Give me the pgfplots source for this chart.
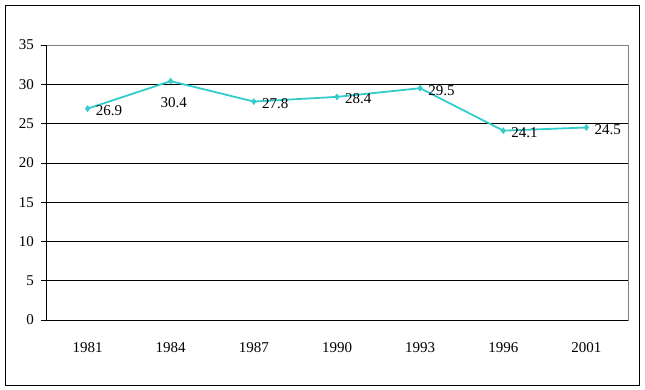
\documentclass[border=0pt]{standalone}
\usepackage{pgfplots}
\pgfplotsset{compat=1.18}
\usepackage{fontspec}
\setmainfont{Liberation Serif}
\definecolor{turq}{HTML}{33CCCC}
\begin{document}
\fontsize{15}{18}\selectfont
\begin{tikzpicture}
\useasboundingbox (-46pt,-70pt) rectangle (599pt,320pt);
\draw[black, line width=0.8pt] (-41pt,-65pt) rectangle (593pt,315pt);
\begin{axis}[
  at={(0,0)}, anchor=south west,
  scale only axis, width=582pt, height=275pt,
  xmin=-0.5, xmax=6.5, ymin=0, ymax=35,
  ytick={0,5,...,35},
  xtick={0,...,6},
  xticklabels={1981,1984,1987,1990,1993,1996,2001},
  xtick pos=bottom, ytick pos=left,
  tick align=outside, major tick length=5pt,
  x tick style={draw=none},
  y tick style={black, line width=0.6pt},
  extra x ticks={-0.5,0.5,1.5,2.5,3.5,4.5,5.5,6.5},
  extra x tick labels={},
  extra x tick style={grid=none, tick style={draw=black, line width=0.6pt}},
  ymajorgrids, grid style={black, line width=0.6pt},
  axis line style={draw=gray, line width=0.6pt},
  /pgf/number format/assume math mode=true,
  tick label style={font=\fontsize{15}{18}\selectfont},
  yticklabel style={xshift=-2pt},
  xticklabel style={yshift=-12pt},
  clip=false,
]
\draw[black, line width=0.6pt] (rel axis cs:0,0) -- (rel axis cs:0,1);
\draw[black, line width=0.6pt] (rel axis cs:0,0) -- (rel axis cs:1,0);
\addplot[turq, line width=1.8pt, mark=diamond*, mark size=3pt, mark options={fill=turq, line width=0.5pt}]
  coordinates {(0,26.9) (1,30.4) (2,27.8) (3,28.4) (4,29.5) (5,24.1) (6,24.5)};
\addplot[draw=none, mark=none, point meta=y,
  nodes near coords={\pgfmathprintnumber[fixed, precision=1, fixed zerofill, assume math mode=true]{\pgfplotspointmeta}},
  every node near coord/.append style={anchor=west, inner sep=0pt, xshift=8pt, yshift=-2pt, font=\fontsize{15}{18}\selectfont, text=black}]
  coordinates {(0,26.9) (2,27.8) (3,28.4) (4,29.5) (5,24.1) (6,24.5)};
\addplot[draw=none, mark=none, point meta=y,
  nodes near coords={\pgfmathprintnumber[fixed, precision=1, fixed zerofill, assume math mode=true]{\pgfplotspointmeta}},
  every node near coord/.append style={anchor=north, inner sep=0pt, xshift=3pt, yshift=-16pt, font=\fontsize{15}{18}\selectfont, text=black}]
  coordinates {(1,30.4)};
\end{axis}
\end{tikzpicture}
\end{document}
